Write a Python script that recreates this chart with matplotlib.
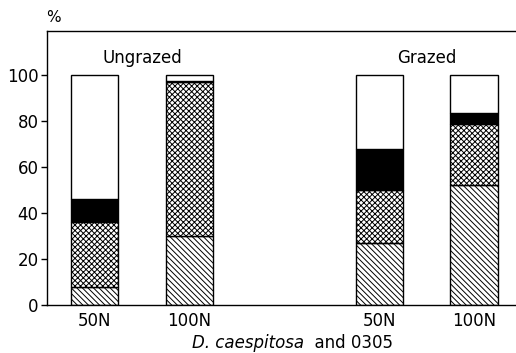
import numpy as np
import matplotlib
matplotlib.use("Agg")
import matplotlib.pyplot as plt

plt.rcParams['font.family'] = ['DejaVu Sans']
plt.rcParams['hatch.linewidth'] = 0.7

# -----------------------------
# DATA (percent, stacked from bottom)
# -----------------------------
bar_labels = ["50N", "100N", "50N", "100N"]
positions = [0, 1, 3, 4]
diag_part = [8, 30, 27, 52]        # hatched \\\ segment
cross_part = [28, 67, 23, 26.5]    # cross-hatched segment
black_part = [10, 0.5, 18, 5]      # solid black segment
white_part = [54, 2.5, 32, 16.5]   # open segment (to 100)
groups = ["Ungrazed", "Grazed"]
group_x = [0.5, 3.5]

fig = plt.figure(figsize=(5.16, 3.53), dpi=100)
ax = fig.add_axes([47/516, 1 - 305/353, 1 - 47/516, (305 - 31)/353])

width = 0.5
bottom = np.zeros(len(positions))
for vals, fc, hatch in [(diag_part, "white", "\\" * 6),
                        (cross_part, "white", "x" * 6),
                        (black_part, "black", None),
                        (white_part, "white", None)]:
    ax.bar(positions, vals, width, bottom=bottom, color=fc,
           edgecolor="black", linewidth=1.0, hatch=hatch)
    bottom += np.array(vals)

for g, gx in zip(groups, group_x):
    ax.text(gx, 107.5, g, ha="center", va="center", fontsize=12)

ax.set_xlim(-0.5, 4.44)
ax.set_ylim(0, 119.1)
ax.set_yticks([0, 20, 40, 60, 80, 100])
ax.set_xticks(positions)
ax.set_xticklabels(bar_labels)
ax.tick_params(axis="y", length=4, width=1, pad=2, labelsize=12)
ax.tick_params(axis="x", length=0, pad=5, labelsize=12)
ax.spines["right"].set_visible(False)
for s in ["left", "bottom", "top"]:
    ax.spines[s].set_linewidth(1.0)

# x label: italic species name + plain text
fig.text(304/516, 1 - 343/353, "D. caespitosa", ha="right", va="center",
         fontsize=12, style="italic")
fig.text(304/516, 1 - 343/353, "  and 0305", ha="left", va="center",
         fontsize=12)
fig.text(53/516, 1 - 18/353, "%", ha="center", va="center", fontsize=11)

fig.savefig("out.png", dpi=100)
